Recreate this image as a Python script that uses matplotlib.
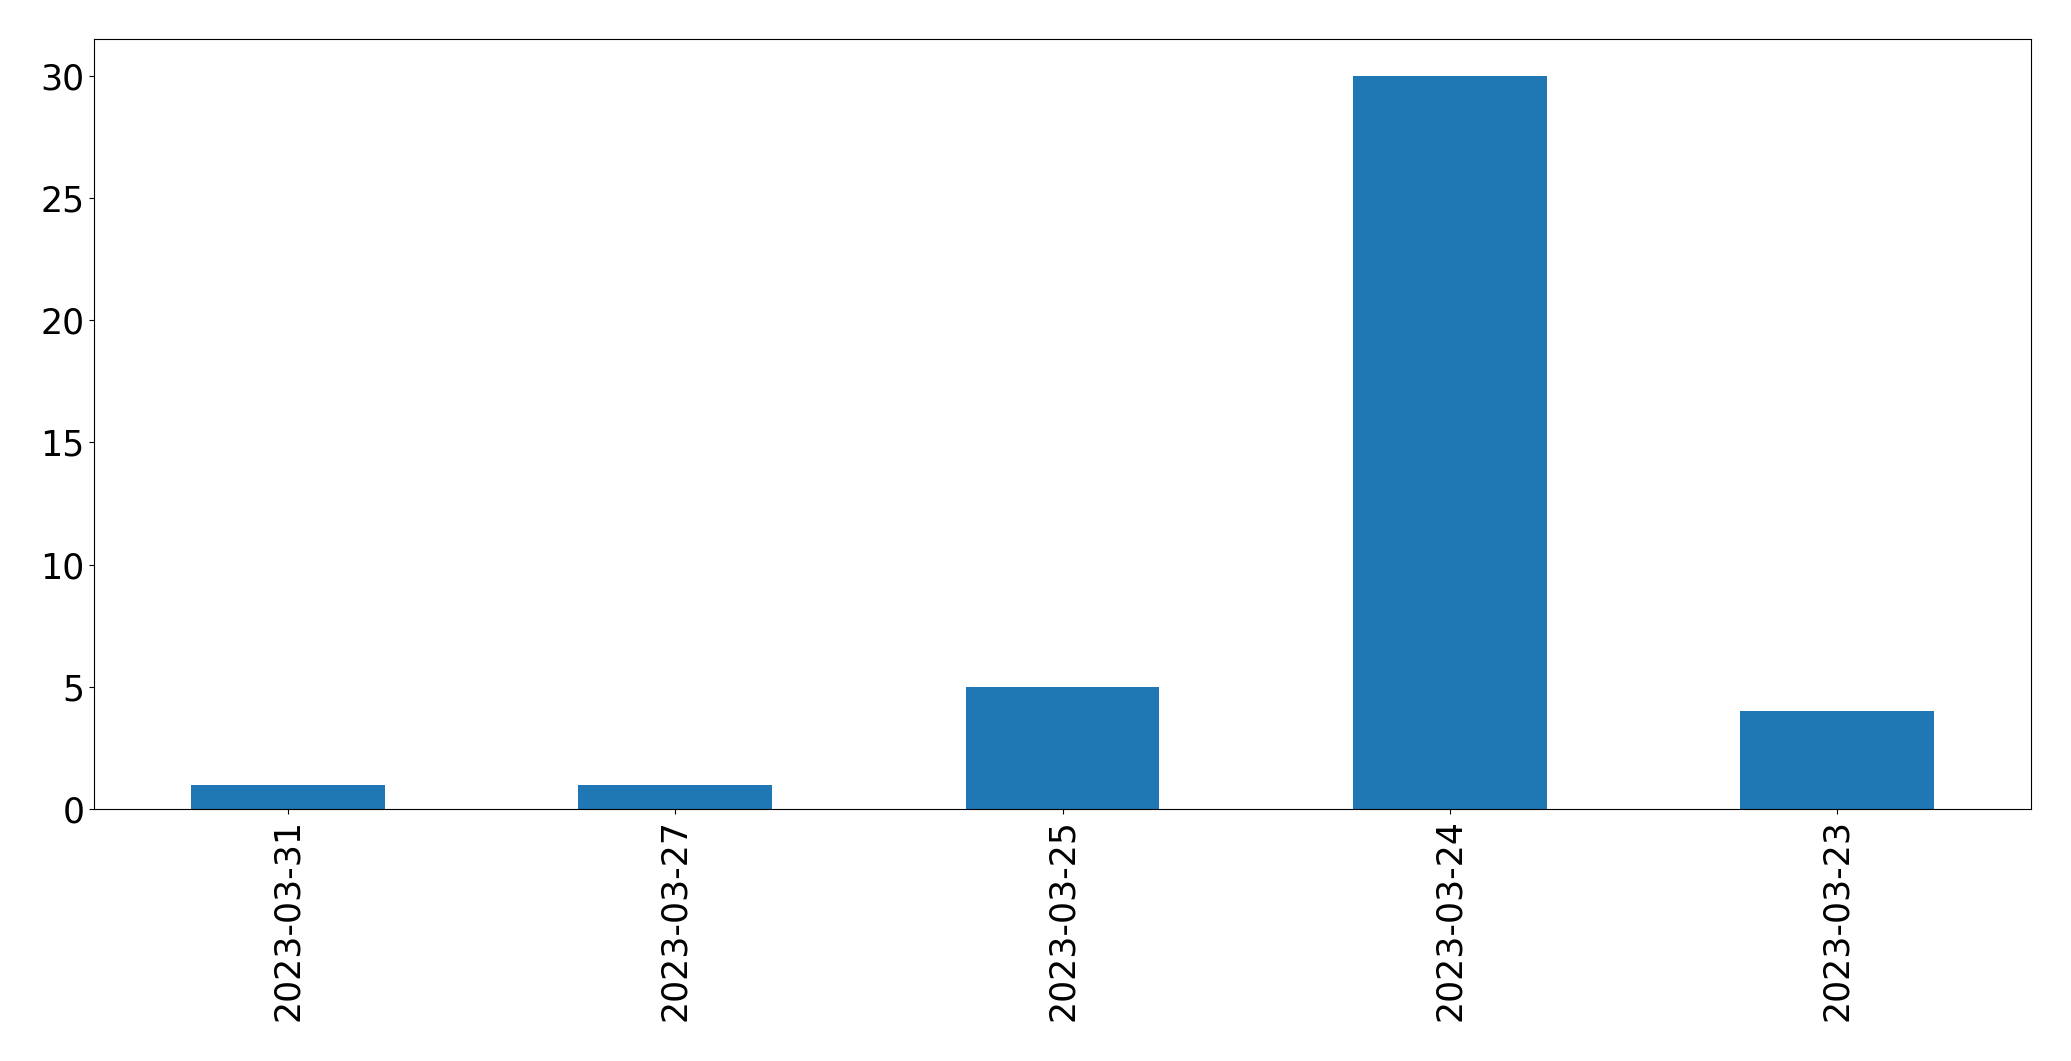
import matplotlib
matplotlib.use("Agg")
import matplotlib.pyplot as plt

dates = ["2023-03-31", "2023-03-27", "2023-03-25", "2023-03-24", "2023-03-23"]
counts = [1, 1, 5, 30, 4]

fig = plt.figure(figsize=(20.71, 10.61), dpi=100)
ax = fig.add_axes([94/2071, 1-809/1061, (2031-94)/2071, (809-39)/1061])
x = list(range(len(dates)))
ax.bar(x, counts, width=0.5, color="#1f77b4")
ax.set_xticks(x)
ax.set_xticklabels(dates, rotation=90, fontsize=25)
ax.tick_params(axis="y", labelsize=25)
ax.set_xlim(-0.5, len(dates) - 0.5)
ax.set_ylim(0, 31.5)
fig.savefig("out.png", dpi=100)
